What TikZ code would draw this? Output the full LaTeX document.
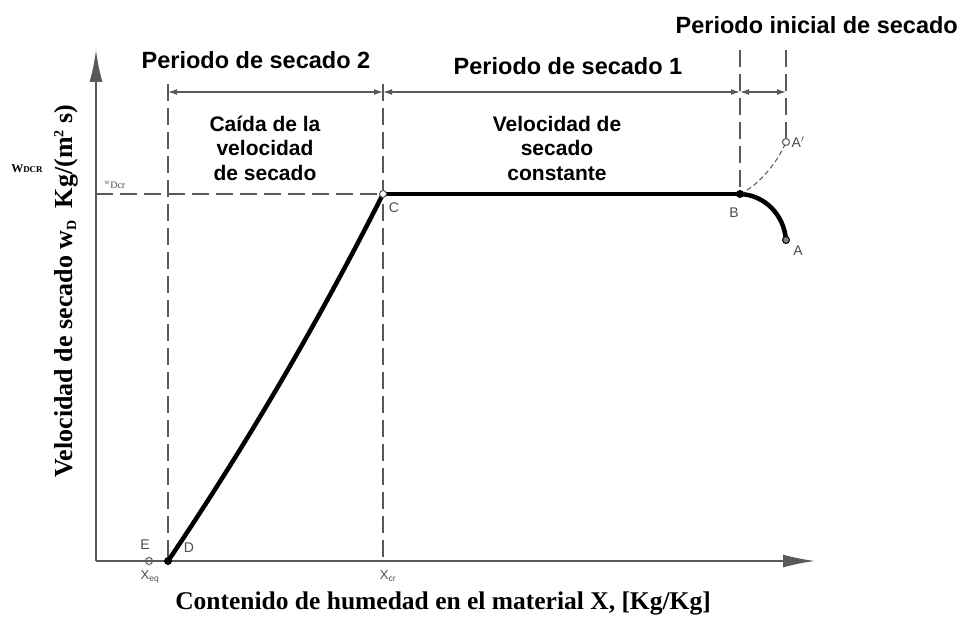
\documentclass[tikz,border=0pt]{standalone}
\usepackage{fontspec}
\setmainfont{Liberation Serif}
\setsansfont{Liberation Sans}
\usetikzlibrary{arrows.meta}
\definecolor{axisgray}{gray}{0.35}
\definecolor{labgray}{gray}{0.3}
\tikzset{
  axisline/.style={draw=axisgray, line width=1.8pt},
  guide/.style={draw=axisgray, line width=1.4pt, dash pattern=on 17pt off 7pt},
  curve/.style={draw=black, line width=4.5pt, line cap=round},
  dim/.style={draw=axisgray, line width=1.2pt, {Latex[length=9pt,width=6pt]}-{Latex[length=9pt,width=6pt]}},
  title/.style={font=\sffamily\bfseries\fontsize{23.5}{27}\selectfont, inner sep=0pt},
  region/.style={font=\sffamily\bfseries\fontsize{21}{24.5}\selectfont, align=center, inner sep=0pt},
  pt/.style={font=\sffamily\fontsize{14}{16}\selectfont, text=labgray, inner sep=0pt},
  axlabel/.style={font=\bfseries\fontsize{25.5}{28}\selectfont, inner sep=0pt}
}
\begin{document}
\begin{tikzpicture}[x=1pt,y=-1pt]
\useasboundingbox (0,0) rectangle (964,623);
% key points
\coordinate (O) at (96,561);
\coordinate (ytip) at (96,50);
\coordinate (xtip) at (815,561);
\coordinate (C) at (383,194);
\coordinate (B) at (740,194);
\coordinate (A) at (786,240);
\coordinate (Ap) at (786,142);
\coordinate (D) at (168,561);
\coordinate (E) at (149,561);
\coordinate (wd) at (96,194);
\coordinate (Dtop) at (168,84);
\coordinate (Ctop) at (383,84);
\coordinate (Btop) at (740,50);
\coordinate (Aptop) at (786,50);
\coordinate (Cbot) at (383,561);
\coordinate (d1) at (168,92);
\coordinate (d2) at (383,92);
\coordinate (d3) at (740,92);
\coordinate (d4) at (786,92);
% guides
\draw[guide] (wd) -- (B);
\draw[guide] (Dtop) -- (D);
\draw[guide] (Ctop) -- (Cbot);
\draw[guide] (Btop) -- (B);
\draw[guide] (Aptop) -- (Ap);
% dimension lines
\draw[dim] (d1) -- (d2);
\draw[dim] (d2) -- (d3);
\draw[dim] (d3) -- (d4);
% axes
\draw[axisline, -{Latex[length=32pt,width=13pt]}] (O) -- (xtip);
\draw[axisline, -{Latex[length=32pt,width=13pt]}] (O) -- (ytip);
% curves
\draw[curve] (D) .. controls (247,444) and (319,321) .. (C);
\draw[curve] (C) -- (B);
\draw[curve] (B) .. controls (765,195) and (784,215) .. (A);
\draw[axisgray, line width=1pt, dash pattern=on 5pt off 3pt] (B) .. controls (758,186) and (778,162) .. (Ap);
% markers
\fill[black] (D) circle (4pt);
\fill[black] (B) circle (4pt);
\draw[axisgray, line width=1pt, fill=white] (C) circle (3.5pt);
\draw[axisgray, line width=1pt, fill=white] (Ap) circle (3.5pt);
\draw[black, line width=1pt, fill=gray] (A) circle (3.5pt);
\draw[axisgray, line width=1pt] (E) circle (3.5pt);
% point labels
\node[pt] (lC) at (394,208) {C};
\node[pt] (lB) at (734,213) {B};
\node[pt] (lA) at (798,251) {A};
\node[pt] (lAp) at (798,142) {A$'$};
\node[pt] (lD) at (189,548) {D};
\node[pt] (lE) at (145,545) {E};
\node[pt, font=\sffamily\fontsize{13}{14}\selectfont] (lXeq) at (150,577) {X\textsubscript{\fontsize{8.5}{9}\selectfont eq}};
\node[pt, font=\sffamily\fontsize{13}{14}\selectfont] (lXcr) at (388,576) {X\textsubscript{\fontsize{8.5}{9}\selectfont cr}};
\node[font=\fontsize{10}{12}\selectfont, text=labgray, inner sep=0pt] (lwd) at (115,185) {\textsuperscript{w}Dcr};
\node[font=\bfseries\fontsize{12}{14}\selectfont, inner sep=0pt] (lWD) at (27,169) {W{\fontsize{9}{10}\selectfont DCR}};
% titles
\node[title, anchor=east] (tini) at (958,25) {Periodo inicial de secado};
\node[title] (t2) at (256,60) {Periodo de secado 2};
\node[title] (t1) at (568,66) {Periodo de secado 1};
\node[region] (r2) at (265,148) {Caída de la\\velocidad\\de secado};
\node[region] (r1) at (557,148) {Velocidad de\\secado\\constante};
% axis labels
\node[axlabel, rotate=90, font=\bfseries\fontsize{26}{28}\selectfont] (ylab) at (66,291) {Velocidad de secado w\textsubscript{\fontsize{14}{16}\selectfont D}\hspace{12pt}Kg/(m\textsuperscript{\fontsize{14}{16}\selectfont 2} s)};
\node[axlabel] (xlab) at (443,603) {Contenido de humedad en el material X, [Kg/Kg]};
\end{tikzpicture}
\end{document}
